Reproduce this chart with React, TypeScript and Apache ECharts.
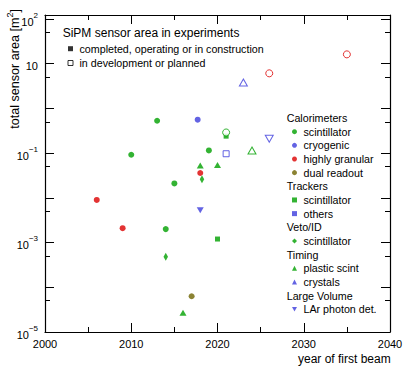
import React, { useEffect, useRef } from 'react';
import * as echarts from 'echarts';

// ---------- data: [year of first beam, total sensor area in m^2] ----------
const caloScintBuilt = [[2010, 0.092], [2013, 0.53], [2014, 0.002], [2015, 0.021], [2019, 0.115]];
const caloScintPlanned = [[2021, 0.29]];
const caloCryoBuilt = [[2017.7, 0.56]];
const caloCryoPlanned: number[][] = [];
const caloGranBuilt = [[2006, 0.009], [2009, 0.0021], [2018, 0.036]];
const caloGranPlanned = [[2026, 6.1], [2035, 16.2]];
const caloDualBuilt = [[2017, 6.3e-5]];
const caloDualPlanned: number[][] = [];
const trackScintBuilt = [[2020, 0.0012], [2021, 0.24]];
const trackScintPlanned: number[][] = [];
const trackOthersBuilt: number[][] = [];
const trackOthersPlanned = [[2021, 0.097]];
const vetoScintBuilt = [[2014, 4.8e-4], [2018.2, 0.026]];
const vetoScintPlanned: number[][] = [];
const timingPlasticBuilt = [[2016, 2.7e-5], [2018, 0.053], [2020, 0.054]];
const timingPlasticPlanned = [[2024, 0.115]];
const timingCrystalsBuilt: number[][] = [];
const timingCrystalsPlanned = [[2023, 3.8]];
const larBuilt = [[2018, 0.0053]];
const larPlanned = [[2026, 0.21]];

// ---------- axes ----------
const xTickYears = [2000, 2010, 2020, 2030, 2040];
const yLabelledDecades = [-5, -3, -1, 1, 2];
const yMinorMantissa = 5;

const statusLabels = ['completed, operating or in construction', 'in development or planned'];
const legendTitle = 'SiPM sensor area in experiments';

const GREEN = '#00a000';
const BLUE = '#3c3cdc';
const RED = '#dc0000';
const OLIVE = '#6e6400';
const FONT = "'Liberation Sans', Arial, Helvetica, sans-serif";
const DOWN_TRI = 'path://M0,0L10,0L5,8.6Z';

const groups = [
  {
    title: 'Calorimeters',
    items: [
      { label: 'scintillator', color: GREEN, symbol: 'circle', size: 6, built: caloScintBuilt, planned: caloScintPlanned, z: 5 },
      { label: 'cryogenic', color: BLUE, symbol: 'circle', size: 6, built: caloCryoBuilt, planned: caloCryoPlanned, z: 3 },
      { label: 'highly granular', color: RED, symbol: 'circle', size: 6, built: caloGranBuilt, planned: caloGranPlanned, z: 3 },
      { label: 'dual readout', color: OLIVE, symbol: 'circle', size: 6, built: caloDualBuilt, planned: caloDualPlanned, z: 3 },
    ],
  },
  {
    title: 'Trackers',
    items: [
      { label: 'scintillator', color: GREEN, symbol: 'rect', size: 5, built: trackScintBuilt, planned: trackScintPlanned, z: 3 },
      { label: 'others', color: BLUE, symbol: 'rect', size: 5, built: trackOthersBuilt, planned: trackOthersPlanned, z: 3 },
    ],
  },
  {
    title: 'Veto/ID',
    items: [
      { label: 'scintillator', color: GREEN, symbol: 'diamond', size: [4.5, 8], built: vetoScintBuilt, planned: vetoScintPlanned, z: 3 },
    ],
  },
  {
    title: 'Timing',
    items: [
      { label: 'plastic scint', color: GREEN, symbol: 'triangle', size: [7, 6], built: timingPlasticBuilt, planned: timingPlasticPlanned, z: 3 },
      { label: 'crystals', color: BLUE, symbol: 'triangle', size: [7, 6], built: timingCrystalsBuilt, planned: timingCrystalsPlanned, z: 3 },
    ],
  },
  {
    title: 'Large Volume',
    items: [
      { label: 'LAr photon det.', color: BLUE, symbol: DOWN_TRI, size: [7, 6], built: larBuilt, planned: larPlanned, z: 3 },
    ],
  },
];

const Y_MIN = -5;
const Y_MAX = 2.09;

function bigger(size: any) {
  return Array.isArray(size) ? [size[0] + 1, size[1] + 1] : size + 1;
}

function buildOption() {
  const series: any[] = [];
  const legends: any[] = [];
  const graphics: any[] = [];

  const ROW0 = 118;
  const ROW = 13.66;
  let row = 0;
  const LEG_X = 286.7;

  groups.forEach((g) => {
    graphics.push({
      type: 'text',
      x: LEG_X,
      y: ROW0 + row * ROW,
      style: { text: g.title, fontSize: 10.7, fontFamily: FONT, fill: '#000', align: 'left', verticalAlign: 'middle' },
    });
    row += 1;
    const names: string[] = [];
    g.items.forEach((it) => {
      const name = g.title + ': ' + it.label;
      names.push(name);
      const data = [
        ...it.built.map((p) => ({ value: [p[0], Math.log10(p[1])] })),
        ...it.planned.map((p) => ({
          value: [p[0], Math.log10(p[1])],
          symbolSize: bigger(it.size),
          itemStyle: { color: '#fff', borderColor: it.color, borderWidth: 1 },
        })),
      ];
      series.push({
        type: 'scatter',
        name,
        symbol: it.symbol,
        symbolSize: it.size,
        z: it.z,
        itemStyle: { color: it.color },
        data,
      });
    });
    legends.push({
      orient: 'vertical',
      left: 292,
      top: ROW0 + row * ROW - ROW / 2,
      padding: 0,
      itemGap: 0,
      itemWidth: 5,
      itemHeight: 5,
      selectedMode: false,
      formatter: (n: string) => n.split(': ')[1],
      textStyle: { fontSize: 10.7, fontFamily: FONT, color: '#000', lineHeight: ROW, padding: [0, 0, 0, 1.5] },
      data: names,
    });
    row += g.items.length;
  });

  // status legend (dummy series without data)
  series.push({ type: 'scatter', name: statusLabels[0], symbol: 'rect', itemStyle: { color: '#000' }, data: [] });
  series.push({
    type: 'scatter',
    name: statusLabels[1],
    symbol: 'rect',
    itemStyle: { color: '#fff', borderColor: '#000', borderWidth: 1 },
    data: [],
  });
  legends.push({
    orient: 'vertical',
    left: 67.5,
    top: 48.7 - 7.15,
    padding: 0,
    itemGap: 0,
    itemWidth: 5,
    itemHeight: 5,
    selectedMode: false,
    textStyle: { fontSize: 10.7, fontFamily: FONT, color: '#000', lineHeight: 14.3, padding: [0, 0, 0, 1.5] },
    data: [
      { name: statusLabels[0], icon: 'rect' },
      { name: statusLabels[1], icon: 'rect', itemStyle: { color: '#fff', borderColor: '#000', borderWidth: 1 } },
    ],
  });

  graphics.push({
    type: 'text',
    x: 62.7,
    y: 33.3,
    style: { text: legendTitle, fontSize: 12, fontFamily: FONT, fill: '#000', align: 'left', verticalAlign: 'middle' },
  });
  graphics.push({
    type: 'text',
    x: 390.7,
    y: 359,
    style: { text: 'year of first beam', fontSize: 12, fontFamily: FONT, fill: '#000', align: 'right', verticalAlign: 'middle' },
  });
  graphics.push({
    type: 'text',
    x: 13,
    y: 9,
    rotation: Math.PI / 2,
    style: {
      text: '{a|total sensor area [m}{s|2}{a|]}',
      align: 'right',
      verticalAlign: 'middle',
      rich: {
        a: { fontSize: 12.6, fontFamily: FONT, fill: '#000', color: '#000', lineHeight: 16, verticalAlign: 'bottom' },
        s: { fontSize: 9, fontFamily: FONT, fill: '#000', color: '#000', lineHeight: 9, verticalAlign: 'top' },
      },
    },
  });

  const axisLine = { show: true, onZero: false, lineStyle: { color: '#000', width: 1.2 } };
  const tickStyle = { color: '#000', width: 1 };

  const xBase = {
    type: 'value',
    min: xTickYears[0],
    max: xTickYears[xTickYears.length - 1],
    interval: xTickYears[1] - xTickYears[0],
    axisLine,
    axisTick: { show: true, inside: true, length: 9, lineStyle: tickStyle },
    minorTick: { show: true, splitNumber: 2, length: 5, lineStyle: tickStyle },
    splitLine: { show: false },
  };

  const minorVals: number[] = [];
  for (let d = Math.floor(Y_MIN); d <= Math.ceil(Y_MAX); d++) {
    const v = d + Math.log10(yMinorMantissa);
    if (v > Y_MIN && v < Y_MAX) minorVals.push(v);
  }

  const yMajor = (pos: string, labels: boolean) => ({
    type: 'value',
    position: pos,
    min: Y_MIN,
    max: Y_MAX,
    interval: 1,
    axisLine,
    axisTick: { show: true, inside: true, length: 9, lineStyle: tickStyle },
    splitLine: { show: false },
    axisLabel: labels
      ? {
          show: true,
          margin: 7,
          formatter: (v: number) => {
            const n = Math.round(v);
            if (Math.abs(v - n) > 1e-6 || !yLabelledDecades.includes(n)) return '';
            if (n === 1) return '{b|10}';
            return '{b|10}{s|' + (n < 0 ? '\u2212' : '') + Math.abs(n) + '}';
          },
          rich: {
            b: { fontSize: 11, fontFamily: FONT, color: '#000', lineHeight: 16, verticalAlign: 'bottom' },
            s: { fontSize: 8, fontFamily: FONT, color: '#000', lineHeight: 8, verticalAlign: 'top' },
          },
        }
      : { show: false },
  });
  const yMinor = (pos: string) => ({
    type: 'value',
    position: pos,
    min: Y_MIN,
    max: Y_MAX,
    axisLine: { show: false },
    axisLabel: { show: false },
    splitLine: { show: false },
    axisTick: { show: true, inside: true, length: 5, lineStyle: tickStyle, customValues: minorVals },
  });

  return {
    animation: false,
    backgroundColor: '#fff',
    grid: { left: 45, right: 17, top: 15, bottom: 41, containLabel: false },
    xAxis: [
      {
        ...xBase,
        position: 'bottom',
        axisLabel: { show: true, color: '#000', fontSize: 11, fontFamily: FONT, margin: 6, formatter: (v: number) => String(v) },
      },
      { ...xBase, position: 'top', axisLabel: { show: false } },
    ],
    yAxis: [yMajor('left', true), yMinor('left'), yMajor('right', false), yMinor('right')],
    legend: legends,
    graphic: graphics,
    series,
  };
}

export default function App() {
  const ref = useRef<HTMLDivElement>(null);
  useEffect(() => {
    if (!ref.current) return;
    const chart = echarts.init(ref.current, null, { renderer: 'svg' });
    chart.setOption(buildOption() as any);
    return () => chart.dispose();
  }, []);
  return <div ref={ref} style={{ position: 'fixed', left: 0, top: 0, width: 407, height: 373 }} />;
}
